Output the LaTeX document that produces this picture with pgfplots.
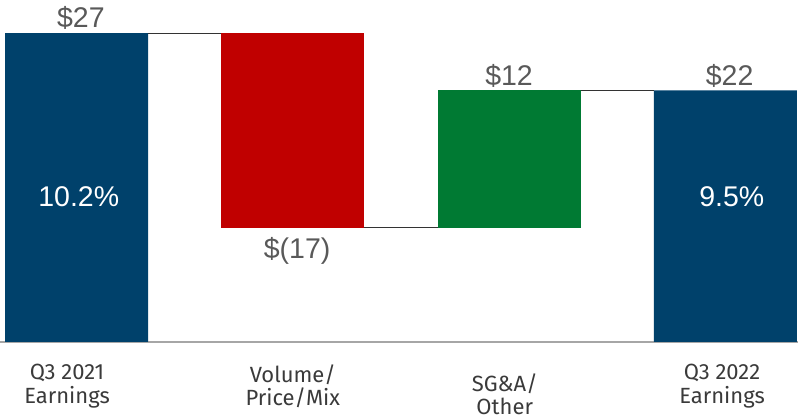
\documentclass[border=0pt]{standalone}
\usepackage{pgfplots}
\pgfplotsset{compat=1.18}
\usepackage{fontspec}
\setmainfont{Liberation Sans}
\newfontfamily\catfont[Numbers=Lining]{Fira Sans}
\definecolor{nblue}{HTML}{00416B}
\definecolor{nred}{HTML}{C00000}
\definecolor{ngreen}{HTML}{007A33}
\definecolor{valgray}{HTML}{595959}
\definecolor{catgray}{HTML}{3A3A3A}
\definecolor{basegray}{HTML}{A6A6A6}
\pgfplotsset{wfbase/.style={
  x=216.3pt, y=11.44pt,
  xmin=-0.354, xmax=3.336, ymin=-6.73, ymax=29.9,
  hide axis, clip=false, anchor=origin, at={(0,0)}}}
\begin{document}
\begin{tikzpicture}
% connector and base lines
\begin{axis}[wfbase]
\addplot[basegray, line width=1.6pt] coordinates {(-0.354,0) (3.336,0)};
\addplot[black!80, line width=1.3pt] coordinates {(0.33,27) (0.67,27)};
\addplot[black!80, line width=1.3pt] coordinates {(1.33,10) (1.67,10)};
\addplot[black!80, line width=1.3pt] coordinates {(2.33,22) (2.67,22)};
\end{axis}
% bars
\begin{axis}[wfbase, ybar stacked, bar width=143pt]
\addplot[draw=none, fill=none] coordinates {(0,0) (1,10) (2,10) (3,0)};
\addplot[draw=none, fill=nblue] coordinates {(0,27) (1,0) (2,0) (3,22)};
\addplot[draw=none, fill=nred] coordinates {(0,0) (1,17) (2,0) (3,0)};
\addplot[draw=none, fill=ngreen] coordinates {(0,0) (1,0) (2,12) (3,0)};
\end{axis}
% labels
\begin{axis}[wfbase]
\tikzset{vl/.style={font=\fontsize{28.5}{30}\selectfont, text=valgray, inner sep=2pt},
         cl/.style={font=\catfont\fontsize{22}{23.5}\selectfont, text=catgray, align=center}}
\node[vl, fill=white, inner xsep=8pt] at (axis cs:0.02,28.3) {\$27};
\node[vl] at (axis cs:1.02,8.0) {\$(17)};
\node[vl] at (axis cs:2.0,23.3) {\$12};
\node[vl] at (axis cs:3.02,23.3) {\$22};
\node[vl, text=white] at (axis cs:0.01,12.7) {10.2\%};
\node[vl, text=white] at (axis cs:3.03,12.7) {9.5\%};
\node[cl] at (axis cs:-0.044,-3.85) {Q3 2021\\Earnings};
\node[cl] at (axis cs:1.0,-3.85) {Volume/\\Price/Mix};
\node[cl] at (axis cs:1.98,-4.55) {SG\&A/\\Other};
\node[cl] at (axis cs:2.985,-3.85) {Q3 2022\\Earnings};
\end{axis}
\pgfresetboundingbox
\path[use as bounding box] (current axis.south west) rectangle (current axis.north east);
\end{tikzpicture}
\end{document}
